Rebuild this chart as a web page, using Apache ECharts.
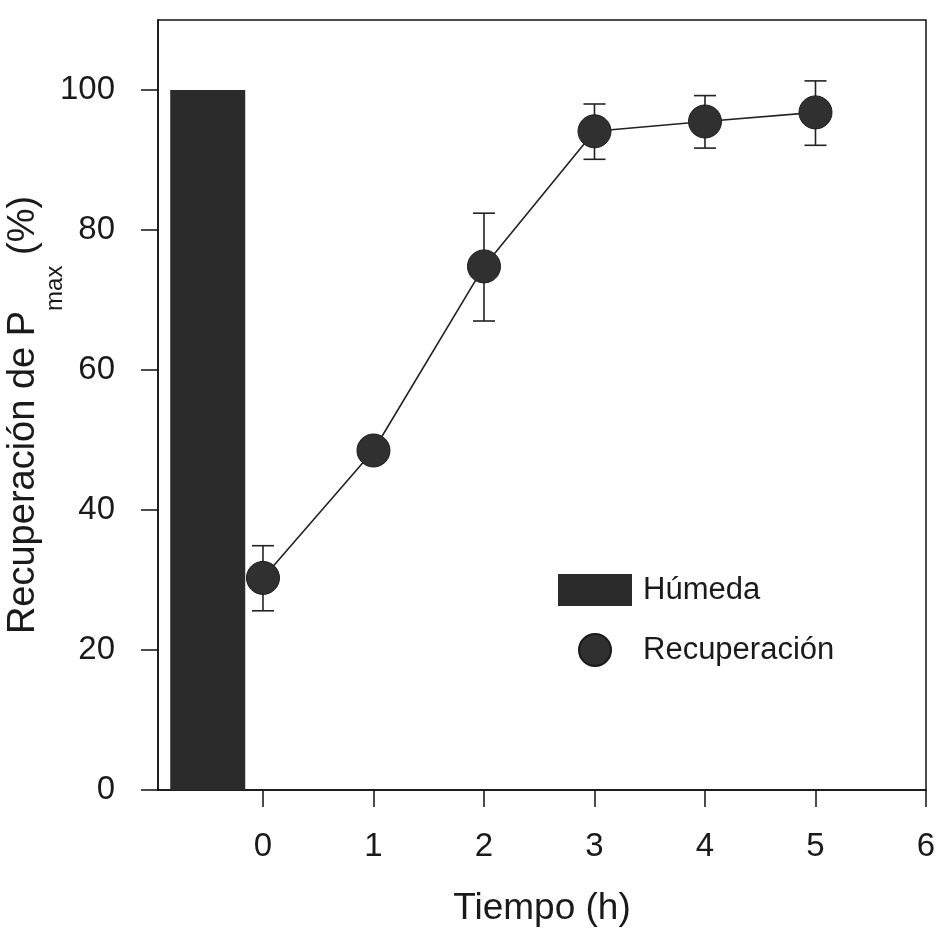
<!DOCTYPE html>
<html>
<head>
<meta charset="utf-8">
<script src="https://cdn.jsdelivr.net/npm/echarts@6/dist/echarts.min.js"></script>
<style>
html,body{margin:0;padding:0;background:#fff;}
#chart{width:943px;height:932px;}
</style>
</head>
<body>
<div id="chart"></div>
<script>
// ---- data ----
const timeH = [0, 1, 2, 3, 4, 5];
const recuperacion = [30.3, 48.5, 74.8, 94.1, 95.5, 96.8];
const errLow = [25.6, 47.5, 67.0, 90.1, 91.7, 92.1];
const errHigh = [34.9, 49.5, 82.4, 98.0, 99.2, 101.3];
const humedaX = [-0.5];
const humedaVal = [100];
const xTicks = [0, 1, 2, 3, 4, 5, 6];
const yTicks = [0, 20, 40, 60, 80, 100];

const FONT = '"Liberation Sans", Arial, sans-serif';
const chart = echarts.init(document.getElementById('chart'), null, {renderer: 'canvas'});

const lineData = timeH.map((t, i) => [t, recuperacion[i]]);
const errData = timeH.map((t, i) => [t, errLow[i], errHigh[i]]);
const barData = humedaX.map((x, i) => [x, humedaVal[i]]);

chart.setOption({
  backgroundColor: '#fff',
  animation: false,
  grid: {
    left: 158, right: 17, top: 20, bottom: 142,
    containLabel: false, outerBoundsMode: 'none',
    show: true, borderColor: '#111', borderWidth: 1.5, backgroundColor: 'transparent'
  },
  legend: {
    orient: 'vertical',
    left: 553, top: 569,
    itemWidth: 74, itemHeight: 32, itemGap: 27,
    textStyle: {fontFamily: FONT, fontSize: 31, color: '#1a1a1a', padding: [0, 0, 0, 6]},
    data: [{name: 'Húmeda', icon: 'rect'}, {name: 'Recuperación', icon: 'circle'}]
  },
  xAxis: {
    type: 'value', min: -0.95, max: 6,
    name: 'Tiempo (h)', nameLocation: 'middle', nameGap: 100, nameMoveOverlap: false,
    nameTextStyle: {fontFamily: FONT, fontSize: 37, color: '#1a1a1a'},
    axisLine: {show: true, onZero: false, lineStyle: {color: '#111', width: 1.5}},
    axisTick: {show: true, inside: false, length: 17, customValues: xTicks, lineStyle: {color: '#111', width: 1.5}},
    axisLabel: {customValues: xTicks, margin: 40, fontFamily: FONT, fontSize: 33, color: '#1a1a1a'},
    splitLine: {show: false}
  },
  yAxis: {
    type: 'value', min: 0, max: 110,
    name: '{a|Recuperación de P}{b|max}{a| (%)}{c|\u200b}',
    nameLocation: 'middle', nameGap: 91, nameMoveOverlap: false,
    nameTextStyle: {
      fontFamily: FONT, color: '#1a1a1a', padding: [0, 20, 0, 0],
      rich: {
        a: {fontFamily: FONT, fontSize: 38, lineHeight: 38, verticalAlign: 'top', color: '#1a1a1a'},
        b: {fontFamily: FONT, fontSize: 24, lineHeight: 24, verticalAlign: 'bottom', color: '#1a1a1a'},
        c: {fontFamily: FONT, fontSize: 10, lineHeight: 62}
      }
    },
    axisLine: {show: true, onZero: false, lineStyle: {color: '#111', width: 1.5}},
    axisTick: {show: true, inside: false, length: 17, customValues: yTicks, lineStyle: {color: '#111', width: 1.5}},
    axisLabel: {customValues: yTicks, margin: 43, fontFamily: FONT, fontSize: 33, color: '#1a1a1a'},
    splitLine: {show: false}
  },
  series: [
    {
      name: 'Húmeda', type: 'bar', data: barData, barWidth: 75,
      itemStyle: {color: '#2b2b2b'}, z: 1
    },
    {
      name: 'errores', type: 'custom', data: errData, z: 2,
      renderItem: function (params, api) {
        const x = api.value(0);
        const lo = api.coord([x, api.value(1)]);
        const hi = api.coord([x, api.value(2)]);
        const hw = 11;
        const st = {stroke: '#222', lineWidth: 1.6};
        return {
          type: 'group',
          children: [
            {type: 'line', shape: {x1: lo[0], y1: lo[1], x2: hi[0], y2: hi[1]}, style: st},
            {type: 'line', shape: {x1: lo[0] - hw, y1: lo[1], x2: lo[0] + hw, y2: lo[1]}, style: st},
            {type: 'line', shape: {x1: hi[0] - hw, y1: hi[1], x2: hi[0] + hw, y2: hi[1]}, style: st}
          ]
        };
      }
    },
    {
      name: 'Recuperación', type: 'line', data: lineData, z: 3,
      symbol: 'circle', symbolSize: 33,
      lineStyle: {color: '#222', width: 1.6},
      itemStyle: {color: '#303030', borderColor: '#1a1a1a', borderWidth: 1}
    }
  ]
});
</script>
</body>
</html>
